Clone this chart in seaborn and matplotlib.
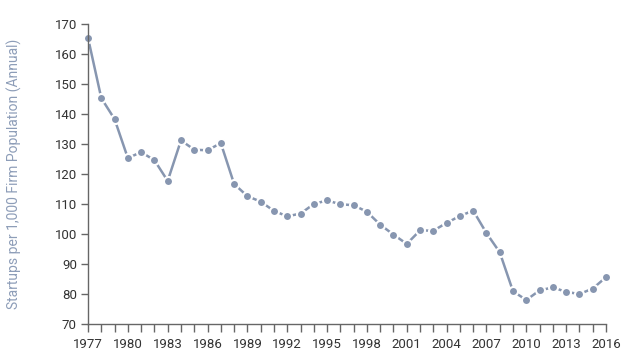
import matplotlib
matplotlib.use("Agg")
import matplotlib.pyplot as plt
import seaborn as sns
import pandas as pd
from matplotlib.ticker import MultipleLocator

years = list(range(1977, 2017))
startups = [165.4, 145.3, 138.3, 125.3, 127.3, 124.6, 117.7, 131.2, 128.1, 127.9,
            130.3, 116.7, 112.6, 110.8, 107.7, 105.9, 106.8, 110.0, 111.2, 109.9,
            109.6, 107.4, 103.1, 99.8, 96.7, 101.2, 101.1, 103.7, 106.0, 107.8,
            100.3, 93.9, 80.9, 78.0, 81.2, 82.2, 80.7, 80.0, 81.8, 85.6]
label_years = list(range(1977, 2017, 3))
y_ticks = list(range(70, 171, 10))

df = pd.DataFrame({"year": years, "rate": startups})

sns.set_theme(style="white")
plt.rcParams['font.family'] = ['Roboto', 'DejaVu Sans']

fig = plt.figure(figsize=(6.29, 3.64), dpi=100)
ax = fig.add_axes([88/629, 1-324/364, (606-88)/629, (324-24)/364])

line_color = "#8796b0"
sns.lineplot(data=df, x="year", y="rate", ax=ax, color=line_color, linewidth=1.8,
             marker="o", markersize=6.5, markeredgecolor="white", markeredgewidth=1.5,
             clip_on=False)

ax.set_xlim(1977, 2016)
ax.set_ylim(70, 170)
ax.set_xticks(label_years)
ax.set_xticklabels([str(y) for y in label_years])
ax.xaxis.set_minor_locator(MultipleLocator(1))
ax.set_yticks(y_ticks)

for s in ["top", "right"]:
    ax.spines[s].set_visible(False)
for s in ["left", "bottom"]:
    ax.spines[s].set_color("#666666")
    ax.spines[s].set_linewidth(1.0)

ax.tick_params(axis="both", which="both", direction="out", color="#666666",
               labelcolor="#333333", labelsize=9.5)
ax.tick_params(axis="x", which="major", length=6, width=1, pad=4, bottom=True)
ax.tick_params(axis="x", which="minor", length=6, width=1, bottom=True)
ax.tick_params(axis="y", which="major", length=5, width=1, pad=3, left=True)

ax.set_xlabel("")
ax.set_ylabel("Startups per 1,000 Firm Population (Annual)", color="#8d9db8",
              fontsize=10)
ax.yaxis.set_label_coords(-(88 - 22) / 518, 0.5)
ax.grid(False)

fig.savefig("out.png", dpi=100)
